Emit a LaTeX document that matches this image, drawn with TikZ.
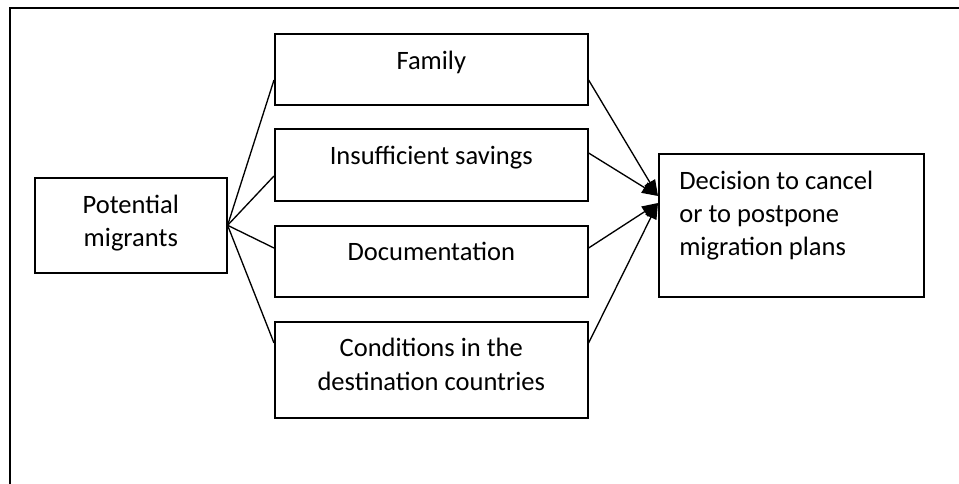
\documentclass[tikz,border=0pt]{standalone}
\usepackage{fontspec}
\setmainfont{Carlito}
\usetikzlibrary{calc,arrows.meta}
\begin{document}
\begin{tikzpicture}[x=0.75pt,y=-0.75pt,
  every node/.style={font=\fontsize{19.9}{24.8}\selectfont},
  box/.style={draw,line width=1.2pt,rectangle,inner sep=0pt},
  txt/.style={anchor=base,align=center,inner sep=0pt},
  link/.style={line width=1pt},
  arr/.style={line width=1pt,-{Triangle[length=12pt,width=9pt]}}]
\useasboundingbox (0,0) rectangle (959,484);
% outer frame (top and left edges)
\draw[line width=1.4pt] (959,8) -- (10,8) -- (10,484);

% boxes
\node[box,minimum width=144pt,minimum height=71.25pt,anchor=north west] (pot) at (34,177) {};
\node[box,minimum width=234.75pt,minimum height=53.5pt,anchor=north west] (fam) at (274,33) {};
\node[box,minimum width=234.75pt,minimum height=54pt,anchor=north west] (ins) at (274,128) {};
\node[box,minimum width=234.75pt,minimum height=53.25pt,anchor=north west] (doc) at (274,225) {};
\node[box,minimum width=234.75pt,minimum height=72pt,anchor=north west] (con) at (274,321) {};
\node[box,minimum width=198.75pt,minimum height=107.25pt,anchor=north west] (dec) at (658,153) {};

% texts (base anchor sits on the last line)
\node[txt] at ($(pot.north)+(0,37+33)$) {Potential\\migrants};
\node[txt] at ($(fam.north)+(0,37)$) {Family};
\node[txt] at ($(ins.north)+(0,37)$) {Insufficient savings};
\node[txt] at ($(doc.north)+(0,36)$) {Documentation};
\node[txt] at ($(con.north)+(0,36+33)$) {Conditions in the\\destination countries};
\node[txt,align=left,anchor=base west] at ($(dec.north west)+(21,37+66)$) {Decision to cancel\\or to postpone\\migration plans};

% attachment points
\coordinate (famL) at ($(fam.north west)+(0,47)$);
\coordinate (insL) at ($(ins.north west)+(0,48)$);
\coordinate (docL) at ($(doc.north west)+(0,23)$);
\coordinate (conL) at ($(con.north west)+(0,22)$);
\coordinate (famR) at ($(fam.north east)+(0,47)$);
\coordinate (insR) at ($(ins.north east)+(0,25)$);
\coordinate (docR) at ($(doc.north east)+(0,23)$);
\coordinate (conR) at ($(con.north east)+(0,22)$);
\coordinate (tipA) at ($(dec.north west)+(0,43)$);
\coordinate (tipB) at ($(dec.north west)+(0,50)$);

% connectors
\foreach \t in {famL,insL,docL,conL} \draw[link] (pot.east) -- (\t);
\draw[arr] (famR) -- (tipA);
\draw[arr] (insR) -- (tipA);
\draw[arr] (docR) -- (tipB);
\draw[arr] (conR) -- (tipB);
\end{tikzpicture}
\end{document}
